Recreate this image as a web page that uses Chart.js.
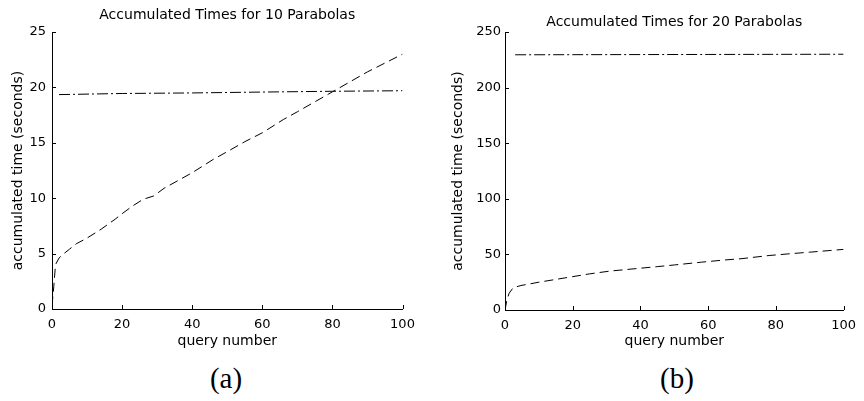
<!DOCTYPE html>
<html>
<head>
<meta charset="utf-8">
<title>Accumulated Times</title>
<script src="https://cdn.jsdelivr.net/npm/chart.js@4.4.1/dist/chart.umd.min.js"></script>
<style>
  html, body { margin: 0; padding: 0; background: #fff; }
  #page { position: relative; width: 864px; height: 401px; overflow: hidden; }
  .panel { position: absolute; top: 0; width: 432px; height: 354px; }
  .caption { position: absolute; top: 362px; font-family: 'Liberation Serif', serif; font-size: 29px; color: #000; transform: translateX(-50%); }
</style>
</head>
<body>
<div id="page">
  <div class="panel" style="left:0"><canvas id="chartA"></canvas></div>
  <div class="panel" style="left:432px"><canvas id="chartB"></canvas></div>
  <div class="caption" style="left:226px">(a)</div>
  <div class="caption" style="left:677px">(b)</div>
</div>
<script>
// ---- data ----
const xTicks = [0, 20, 40, 60, 80, 100];

// (a) 10 parabolas
const queriesA = [0, 0.5, 1, 2, 3, 5, 7, 10, 14, 18, 20, 23, 26, 29, 32, 36, 40, 46, 50, 55, 60, 66, 70, 75, 80, 85, 90, 95, 100];
const dashedA  = [0.3, 2.0, 4.0, 4.6, 4.9, 5.4, 5.9, 6.4, 7.2, 8.1, 8.6, 9.3, 9.9, 10.2, 10.9, 11.6, 12.3, 13.5, 14.2, 15.1, 15.9, 17.1, 17.8, 18.7, 19.6, 20.5, 21.4, 22.2, 23.0];
const flatQueriesA = [2, 20, 40, 60, 80, 100];
const dashDotA     = [19.35, 19.45, 19.5, 19.58, 19.65, 19.7];
const yTicksA = [0, 5, 10, 15, 20, 25];

// (b) 20 parabolas
const queriesB = [0, 0.5, 1.2, 2.4, 4.7, 10, 15, 20, 25, 31, 39, 45, 50, 58, 65, 70, 78, 85, 90, 98, 100];
const dashedB  = [0, 8, 15, 20, 22, 25, 27.5, 30, 32.5, 35, 37.3, 39, 40.5, 43, 45, 46.2, 49, 50.8, 52, 54, 54.5];
const flatQueriesB = [3, 20, 40, 60, 80, 100];
const dashDotB     = [229.5, 229.6, 229.7, 229.8, 229.9, 230];
const yTicksB = [0, 50, 100, 150, 200, 250];

document.addEventListener('DOMContentLoaded', function() {
  Chart.defaults.font.family = "'DejaVu Sans', sans-serif";
  Chart.defaults.color = '#000';

  makePanel('chartA', {
    title: 'Accumulated Times for 10 Parabolas',
    xs: queriesA, ys: dashedA, flatXs: flatQueriesA, flatYs: dashDotA,
    yTicks: yTicksA,
    yWidth: 52, yTitlePad: 9.6, yTickPad: 6,
    titlePad: { top: 7, bottom: 8.2 },
    padRight: 29.5, xHeight: 45
  });

  makePanel('chartB', {
    title: 'Accumulated Times for 20 Parabolas',
    xs: queriesB, ys: dashedB, flatXs: flatQueriesB, flatYs: dashDotB,
    yTicks: yTicksB,
    yWidth: 73, yTitlePad: 17.6, yTickPad: 4,
    titlePad: { top: 14, bottom: 1.2 },
    padRight: 14.7, xHeight: 44
  });
});

function toPoints(xs, ys) {
  return xs.map((x, i) => ({ x: x, y: ys[i] }));
}

// MATLAB style ticks pointing into the axes
const innerTicks = {
  id: 'innerTicks',
  afterDraw(chart) {
    const ctx = chart.ctx;
    const area = chart.chartArea;
    const x = chart.scales.x;
    const y = chart.scales.y;
    ctx.save();
    ctx.strokeStyle = '#000';
    ctx.lineWidth = 1;
    ctx.beginPath();
    x.ticks.forEach(t => {
      const px = Math.round(x.getPixelForValue(t.value)) + 0.5;
      ctx.moveTo(px, Math.round(area.bottom));
      ctx.lineTo(px, Math.round(area.bottom) - 4);
    });
    y.ticks.forEach(t => {
      const py = Math.round(y.getPixelForValue(t.value)) + 0.5;
      ctx.moveTo(Math.round(area.left), py);
      ctx.lineTo(Math.round(area.left) + 4, py);
    });
    ctx.stroke();
    ctx.restore();
  }
};

function makePanel(id, cfg) {
  const yMax = cfg.yTicks[cfg.yTicks.length - 1];
  const yStep = cfg.yTicks[1] - cfg.yTicks[0];

  return new Chart(document.getElementById(id), {
    type: 'line',
    data: {
      datasets: [
        {
          data: toPoints(cfg.xs, cfg.ys),
          borderColor: '#000',
          borderWidth: 1,
          borderDash: [9, 5],
          pointRadius: 0,
          tension: 0
        },
        {
          data: toPoints(cfg.flatXs, cfg.flatYs),
          borderColor: '#000',
          borderWidth: 1,
          borderDash: [11, 3, 2, 3],
          pointRadius: 0,
          tension: 0
        }
      ]
    },
    options: {
      responsive: true,
      maintainAspectRatio: false,
      animation: false,
      layout: { padding: { left: 0, right: cfg.padRight, top: 0, bottom: 0 } },
      plugins: {
        legend: { display: false },
        tooltip: { enabled: false },
        title: {
          display: true,
          fullSize: false,
          text: cfg.title,
          color: '#000',
          font: { size: 14, weight: 'normal' },
          padding: cfg.titlePad
        }
      },
      scales: {
        x: {
          type: 'linear',
          min: 0,
          max: 100,
          afterBuildTicks: s => { s.ticks = xTicks.map(v => ({ value: v })); },
          afterFit: s => { s.height = cfg.xHeight; },
          grid: { display: false, drawTicks: false },
          border: { display: true, color: '#000', width: 1 },
          ticks: { padding: 8, color: '#000', font: { size: 13 } },
          title: {
            display: true,
            text: 'query number',
            color: '#000',
            font: { size: 14 },
            padding: { top: 0, bottom: 4 }
          }
        },
        y: {
          type: 'linear',
          min: 0,
          max: yMax,
          ticks: { stepSize: yStep, padding: cfg.yTickPad, color: '#000', font: { size: 13 } },
          afterFit: s => { s.width = cfg.yWidth; },
          grid: { display: false, drawTicks: false },
          border: { display: true, color: '#000', width: 1 },
          title: {
            display: true,
            text: 'accumulated time (seconds)',
            color: '#000',
            font: { size: 14 },
            padding: { top: cfg.yTitlePad, bottom: 0 }
          }
        }
      }
    },
    plugins: [innerTicks]
  });
}
</script>
</body>
</html>
